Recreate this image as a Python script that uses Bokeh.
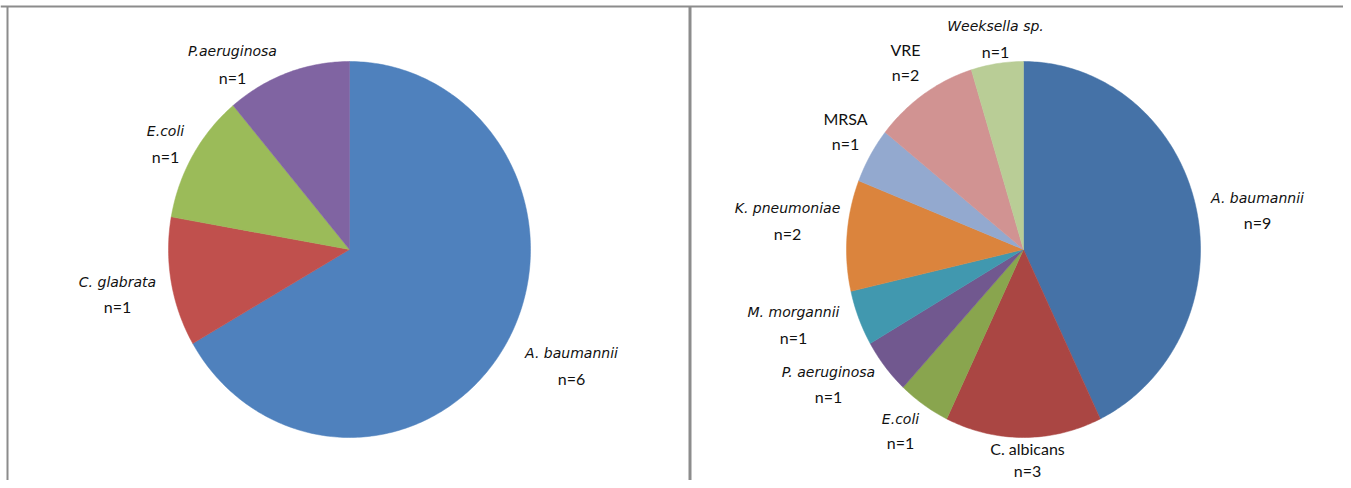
import numpy as np
from bokeh.plotting import figure
from bokeh.models import Range1d, ColumnDataSource
from bokeh.embed import file_html
from bokeh.resources import INLINE
from bokeh.core.properties import value

# ---- data ----
left_names = ["A. baumannii", "C. glabrata", "E.coli", "P.aeruginosa"]
left_counts = [6, 1, 1, 1]
left_italic = [True, True, True, True]
left_colors = ["#4F81BD", "#C0504D", "#9BBB59", "#8064A2"]

right_names = ["A. baumannii", "C. albicans", "E.coli", "P. aeruginosa",
               "M. morgannii", "K. pneumoniae", "MRSA", "VRE", "Weeksella sp."]
right_counts = [9, 3, 1, 1, 1, 2, 1, 2, 1]
right_italic = [True, False, True, True, True, True, False, False, True]
right_colors = ["#4572A7", "#AA4643", "#89A54E", "#71588F", "#4198AF",
                "#DB843D", "#93A9CF", "#D19392", "#B9CD96"]

# label positions (picture pixel coords): (x centre, name y, n y)
left_label_pos = [(571, 352, 378), (117, 281, 306),
                  (165, 130, 156), (232, 50, 77)]
right_label_pos = [(1257, 197, 222), (1027, 448, 470),
                   (900, 418, 442), (828, 371, 396),
                   (793, 311, 337), (787, 207, 233),
                   (845, 118, 143), (905, 49, 74),
                   (995, 25, 51)]

W, H = 1343, 480
p = figure(width=W, height=H, output_backend="svg", toolbar_location=None,
           x_range=Range1d(0, W), y_range=Range1d(H, 0),
           min_border=0)
p.axis.visible = False
p.grid.visible = False
p.outline_line_color = None
p.background_fill_color = "white"
p.border_fill_color = "white"


def pie(cx, cy, rx, ry, counts, colors):
    total = float(sum(counts))
    start = 0.0
    xs, ys = [], []
    for c in counts:
        end = start + c / total * 2 * np.pi
        t = np.linspace(start, end, max(int(c / total * 400), 8))
        # clockwise from 12 o'clock, y axis points down
        px = np.concatenate([[cx], cx + rx * np.sin(t), [cx]])
        py = np.concatenate([[cy], cy - ry * np.cos(t), [cy]])
        xs.append(list(px))
        ys.append(list(py))
        start = end
    src = ColumnDataSource(dict(xs=xs, ys=ys, color=colors))
    p.patches("xs", "ys", source=src, fill_color="color", line_color="color",
              line_width=0.5)


pie(349, 249, 181, 188, left_counts, left_colors)
pie(1023, 249, 177, 188, right_counts, right_colors)


def labels(names, counts, italic, pos):
    for nm, c, it, (x, y1, y2) in zip(names, counts, italic, pos):
        if it:
            p.text(x=[x], y=[y1], text=[nm], text_font=value("DejaVu Sans"),
                   text_font_size="14px", text_color="#111111",
                   text_font_style="italic",
                   text_align="center", text_baseline="middle")
        else:
            p.text(x=[x], y=[y1], text=[nm], text_font=value("Lato"),
                   text_font_size="16px", text_color="#111111",
                   text_align="center", text_baseline="middle")
        p.text(x=[x], y=[y2], text=["n=%d" % c], text_font=value("Lato"),
               text_font_size="16px", text_color="#111111",
               text_align="center", text_baseline="middle")


labels(left_names, left_counts, left_italic, left_label_pos)
labels(right_names, right_counts, right_italic, right_label_pos)

# frame lines
gray = "#8c8c8c"
p.line(x=[0, W], y=[6, 6], line_color=gray, line_width=2)
p.line(x=[7, 7], y=[6, H], line_color=gray, line_width=2)
p.line(x=[689.5, 689.5], y=[6, H], line_color=gray, line_width=3)

open("out.html", "w").write(file_html(p, INLINE))
